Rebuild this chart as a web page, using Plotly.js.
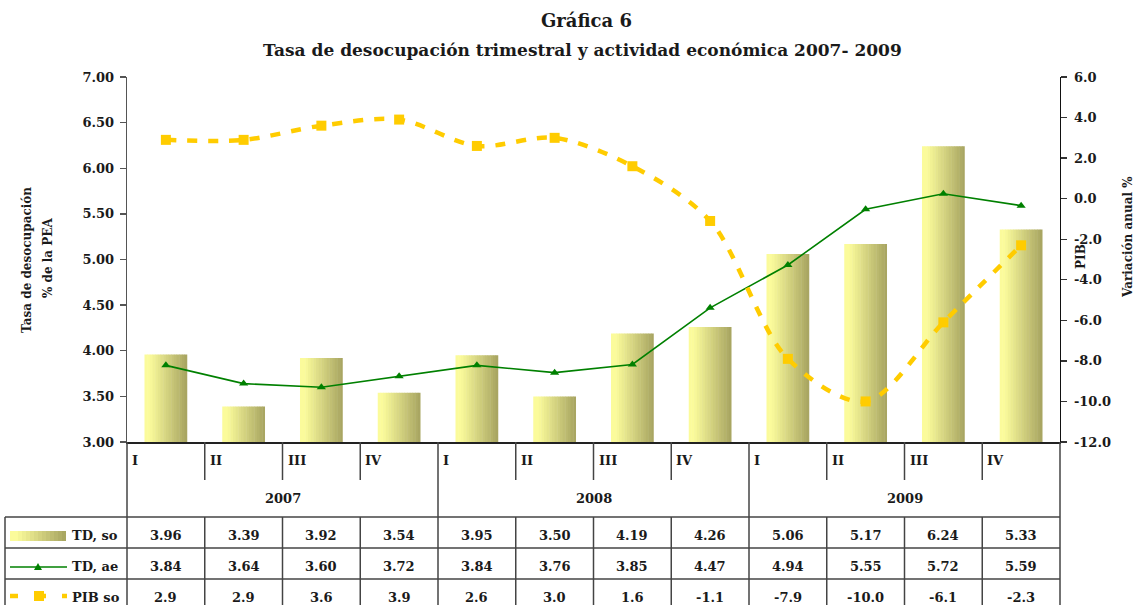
<!DOCTYPE html>
<html><head><meta charset="utf-8">
<script src="https://cdn.plot.ly/plotly-3.0.1.min.js"></script>
<style>html,body{margin:0;padding:0;background:#fff}#chart{width:1137px;height:605px}</style>
</head><body><div id="chart"></div>
<script>
// ---- data ----
const quarters = ['I','II','III','IV','I','II','III','IV','I','II','III','IV'];
const years = ['2007','2008','2009'];
const tdSo = [3.96,3.39,3.92,3.54,3.95,3.50,4.19,4.26,5.06,5.17,6.24,5.33];
const tdAe = [3.84,3.64,3.60,3.72,3.84,3.76,3.85,4.47,4.94,5.55,5.72,5.59];
const pibSo = [2.9,2.9,3.6,3.9,2.6,3.0,1.6,-1.1,-7.9,-10.0,-6.1,-2.3];
const seriesNames = ['TD, so','TD, ae','PIB so'];
const pibTicks = [6,4,2,0,-2,-4,-6,-8,-10,-12];
const pibTickLabels = ['6.0','4.0','2.0','0.0','-2.0','-4.0','-6.0','-8.0','-10.0','-12.0'];
const titleLines = ['Gráfica 6','Tasa de desocupación trimestral y actividad económica 2007- 2009'];

// ---- geometry helpers (layout only) ----
const W = 1137, H = 605, ML = 127, MR = 77, MT = 77, MB = 163;
const PW = W - ML - MR, PH = H - MT - MB;
const px = v => (v - ML) / PW;          // pixel x -> paper x
const py = v => (H - MB - v) / PH;      // pixel y -> paper y
const FONT = '"DejaVu Serif", "Liberation Serif", serif';
const TXT = '#1a1a1a';
const idx = quarters.map((_, i) => i);

// ---- gradient bars built from stripes ----
const traces = [];
const N = 16, BW = 0.55;
const c0 = [251, 251, 155], c1 = [166, 163, 96];
function grad(t) {
  const u = Math.max(0, Math.min(1, (t - 0.12) / 0.88));
  return 'rgb(' + c0.map((c, k) => Math.round(c + (c1[k] - c) * u)).join(',') + ')';
}
for (let k = 0; k < N; k++) {
  const t = (k + 0.5) / N;
  traces.push({
    type: 'bar', x: idx, y: tdSo, yaxis: 'y',
    width: idx.map(() => BW / N + (k < N - 1 ? 0.006 : 0)),
    offset: idx.map(() => -BW / 2 + k * BW / N),
    marker: {color: grad(t), line: {width: 0}},
    showlegend: false, hoverinfo: 'skip'
  });
}
traces.push({
  type: 'scatter', mode: 'lines+markers', x: idx, y: tdAe, yaxis: 'y', name: seriesNames[1],
  line: {color: '#008000', width: 1.6},
  marker: {symbol: 'triangle-up', size: 8, color: '#008000'},
  showlegend: false
});
traces.push({
  type: 'scatter', mode: 'lines+markers', x: idx, y: pibSo, yaxis: 'y2', name: seriesNames[2],
  line: {color: '#FFCC00', width: 4.5, dash: '10px,11px', shape: 'spline', smoothing: 0.9},
  marker: {symbol: 'square', size: 10, color: '#FFCC00'},
  showlegend: false
});

// ---- table shapes ----
const LC = '#444', LW = 1.5;
const shapes = [];
function hline(y, x0, x1) { shapes.push({type: 'line', xref: 'paper', yref: 'paper', x0: px(x0), x1: px(x1), y0: py(y), y1: py(y), line: {color: LC, width: LW}}); }
function vlineP(xp, y0, y1) { shapes.push({type: 'line', xref: 'paper', yref: 'paper', x0: xp, x1: xp, y0: py(y0), y1: py(y1), line: {color: LC, width: LW}}); }
hline(517, 5, ML + PW);
hline(548, 5, ML + PW);
hline(579, 5, ML + PW);
vlineP(px(5), 517, 606);
vlineP(0, 442, 606);
vlineP(1, 442, 606);
for (let b = 1; b < quarters.length; b++) {
  const xp = b / quarters.length;
  if (b % 4 === 0) vlineP(xp, 442, 606);
  else { vlineP(xp, 442, 480); vlineP(xp, 517, 606); }
}
// legend symbols in the table
const LS = 14;
for (let k = 0; k < LS; k++) {
  const x0 = 10 + k * 56 / LS, x1 = 10 + (k + 1) * 56 / LS + 0.5;
  shapes.push({type: 'rect', xref: 'paper', yref: 'paper', x0: px(x0), x1: px(Math.min(x1, 66)), y0: py(541), y1: py(531),
    fillcolor: grad((k + 0.5) / LS), line: {width: 0}});
}
shapes.push({type: 'line', xref: 'paper', yref: 'paper', x0: px(10), x1: px(67), y0: py(567), y1: py(567), line: {color: '#008000', width: 1.6}});
shapes.push({type: 'path', xref: 'paper', yref: 'paper',
  path: `M ${px(34)} ${py(570)} L ${px(42)} ${py(570)} L ${px(38)} ${py(563)} Z`, fillcolor: '#008000', line: {width: 0}});
shapes.push({type: 'line', xref: 'paper', yref: 'paper', x0: px(10), x1: px(18), y0: py(596), y1: py(596), line: {color: '#FFCC00', width: 4.5}});
shapes.push({type: 'rect', xref: 'paper', yref: 'paper', x0: px(34), x1: px(44), y0: py(601), y1: py(591), fillcolor: '#FFCC00', line: {width: 0}});
shapes.push({type: 'line', xref: 'paper', yref: 'paper', x0: px(44), x1: px(46), y0: py(596), y1: py(596), line: {color: '#FFCC00', width: 4.5}});
shapes.push({type: 'line', xref: 'paper', yref: 'paper', x0: px(62), x1: px(67), y0: py(596), y1: py(596), line: {color: '#FFCC00', width: 4.5}});

// ---- annotations ----
const ann = [];
ann.push({xref: 'paper', yref: 'paper', x: px(586), y: py(21), text: '<b>' + titleLines[0] + '</b>', showarrow: false,
  font: {family: FONT, size: 18, color: TXT}, xanchor: 'center', yanchor: 'middle'});
ann.push({xref: 'paper', yref: 'paper', x: px(582), y: py(50), text: '<b>' + titleLines[1] + '</b>', showarrow: false,
  font: {family: FONT, size: 17, color: TXT}, xanchor: 'center', yanchor: 'middle'});
ann.push({xref: 'paper', yref: 'paper', x: px(27), y: py(260), text: '<b>Tasa de desocupación</b>', textangle: -90, showarrow: false,
  font: {family: FONT, size: 12, color: TXT}, xanchor: 'center', yanchor: 'middle'});
ann.push({xref: 'paper', yref: 'paper', x: px(48), y: py(258), text: '<b>% de la PEA</b>', textangle: -90, showarrow: false,
  font: {family: FONT, size: 12, color: TXT}, xanchor: 'center', yanchor: 'middle'});
ann.push({xref: 'paper', yref: 'paper', x: px(1081), y: py(257), text: '<b>PIB</b>', textangle: -90, showarrow: false,
  font: {family: FONT, size: 12, color: TXT}, xanchor: 'center', yanchor: 'middle'});
ann.push({xref: 'paper', yref: 'paper', x: px(1128), y: py(237), text: '<b>Variación anual %</b>', textangle: -90, showarrow: false,
  font: {family: FONT, size: 12, color: TXT}, xanchor: 'center', yanchor: 'middle'});
quarters.forEach((q, i) => {
  ann.push({xref: 'x', yref: 'paper', x: i - 0.5, xshift: 3, y: py(461), text: '<b>' + q + '</b>', showarrow: false,
    font: {family: FONT, size: 13, color: TXT}, xanchor: 'left', yanchor: 'middle'});
});
years.forEach((yr, j) => {
  ann.push({xref: 'x', yref: 'paper', x: 4 * j + 1.5, y: py(498), text: '<b>' + yr + '</b>', showarrow: false,
    font: {family: FONT, size: 13, color: TXT}, xanchor: 'center', yanchor: 'middle'});
});
const rowY = [535, 566, 597];
const rowVals = [tdSo.map(v => v.toFixed(2)), tdAe.map(v => v.toFixed(2)), pibSo.map(v => v.toFixed(1))];
rowVals.forEach((vals, r) => {
  vals.forEach((v, i) => {
    ann.push({xref: 'x', yref: 'paper', x: i, y: py(rowY[r]), text: '<b>' + v + '</b>', showarrow: false,
      font: {family: FONT, size: 13, color: TXT}, xanchor: 'center', yanchor: 'middle'});
  });
  ann.push({xref: 'paper', yref: 'paper', x: px(70), y: py(rowY[r]), text: '<b>' + seriesNames[r] + '</b>', showarrow: false,
    font: {family: FONT, size: 13, color: TXT}, xanchor: 'left', yanchor: 'middle'});
});

const layout = {
  width: W, height: H,
  margin: {l: ML, r: MR, t: MT, b: MB, pad: 0},
  paper_bgcolor: '#fff', plot_bgcolor: '#fff',
  barmode: 'overlay', showlegend: false,
  font: {family: FONT, color: TXT},
  xaxis: {range: [-0.5, 11.5], showticklabels: false, ticks: '', showgrid: false, zeroline: false,
    showline: true, linecolor: '#222', linewidth: 1.6, fixedrange: true},
  yaxis: {range: [3, 7], dtick: 0.5, tick0: 3, tickformat: '.2f', ticks: 'outside', ticklen: 6, tickcolor: '#555', tickwidth: 1.3,
    showline: true, linecolor: '#555', linewidth: 1.3, showgrid: false, zeroline: false, ticklabelstandoff: 3,
    tickfont: {family: FONT, size: 13, color: TXT, weight: 'bold'}},
  yaxis2: {range: [-12, 6], tickmode: 'array', tickvals: pibTicks, ticktext: pibTickLabels, ticks: 'outside', ticklen: 6, tickcolor: '#333', tickwidth: 1.3,
    overlaying: 'y', side: 'right', showline: true, linecolor: '#111', linewidth: 1.3, showgrid: false, zeroline: false,
    ticklabelstandoff: 4, tickfont: {family: FONT, size: 13, color: TXT, weight: 'bold'}},
  shapes: shapes, annotations: ann
};
Plotly.newPlot('chart', traces, layout, {staticPlot: true, displayModeBar: false});
</script>
</body></html>
